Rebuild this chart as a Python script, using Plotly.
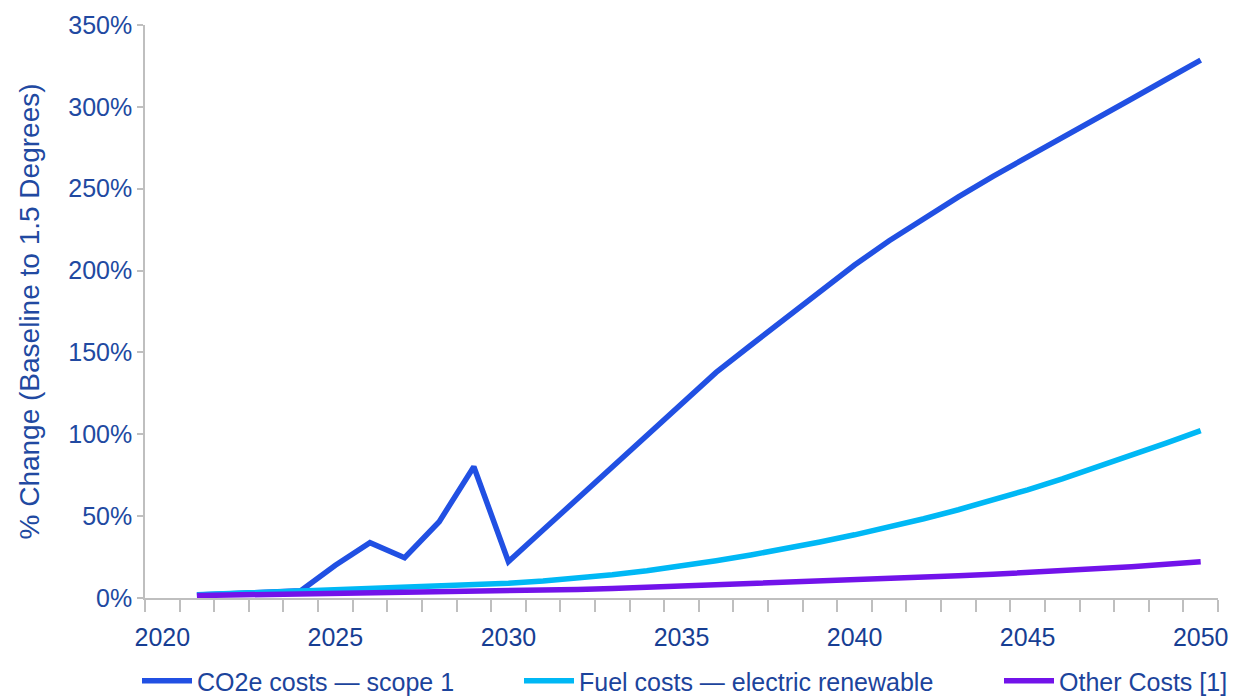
import plotly.graph_objects as go

years = list(range(2021, 2051))

co2e_costs = [1.8, 2.6, 3.5, 4.4, 20.0, 33.8, 24.6, 46.6, 80.2, 22.2,
              41.5, 60.8, 80.1, 99.4, 119.0, 137.8, 154.4, 171.0, 187.6, 203.4,
              218.2, 232.1, 245.0, 257.6, 269.2, 281.1, 293.0, 304.8, 316.7, 328.5]

fuel_costs = [2.0, 2.7, 3.4, 4.2, 4.9, 5.6, 6.3, 7.1, 8.0, 9.0,
              10.4, 12.1, 14.2, 16.7, 19.6, 22.8, 26.3, 30.1, 34.2, 38.6,
              43.3, 48.4, 53.9, 59.8, 66.1, 72.8, 79.9, 87.2, 94.6, 102.2]

other_costs = [1.5, 1.8, 2.1, 2.4, 2.7, 3.0, 3.3, 3.5, 3.7, 4.0,
               4.6, 5.2, 5.8, 6.5, 7.2, 7.9, 8.6, 9.4, 10.2, 11.0,
               11.8, 12.7, 13.6, 14.5, 15.5, 16.6, 17.8, 19.1, 20.6, 22.2]

series_names = ["CO2e costs — scope 1", "Fuel costs — electric renewable", "Other Costs [1]"]
series_colors = ["#2150E3", "#00B8F5", "#7213EA"]

x_tick_vals = [2020, 2025, 2030, 2035, 2040, 2045, 2050]
x_tick_text = ["2020", "2025", "2030", "2035", "2040", "2045", "2050"]
y_tick_vals = [0, 50, 100, 150, 200, 250, 300, 350]
y_tick_text = ["0%", "50%", "100%", "150%", "200%", "250%", "300%", "350%"]
minor_tick_vals = [2019.5 + i for i in range(32)]

FONT = "Liberation Sans, Arial, sans-serif"
AXIS_GREY = "#BFBFBF"

fig = go.Figure()
legend_ids = ["legend", "legend2", "legend3"]
for name, vals, col, lg in zip(series_names, [co2e_costs, fuel_costs, other_costs], series_colors, legend_ids):
    fig.add_trace(go.Scatter(
        x=years, y=vals, mode="lines", name=name,
        line=dict(color=col, width=5.5),
        legend=lg,
    ))

legend_common = dict(
    orientation="h", yanchor="middle", xanchor="left",
    xref="container", yref="container",
    font=dict(family=FONT, size=25, color="#1C449C"),
    bgcolor="rgba(0,0,0,0)", itemwidth=50,
)
LEG_Y = 1 - 681 / 698

fig.update_layout(
    width=1234, height=698,
    margin=dict(l=145, r=16, t=25, b=100, autoexpand=False),
    paper_bgcolor="white", plot_bgcolor="white",
    showlegend=True,
    legend=dict(x=137 / 1234, y=LEG_Y, **legend_common),
    legend2=dict(x=519 / 1234, y=LEG_Y, **legend_common),
    legend3=dict(x=999 / 1234, y=LEG_Y, **legend_common),
    xaxis=dict(
        range=[2019.5, 2050.5],
        tickmode="array", tickvals=x_tick_vals, ticktext=x_tick_text,
        ticks="", ticklabelstandoff=16,
        tickfont=dict(family=FONT, size=25, color="#173E93"),
        showline=True, linecolor=AXIS_GREY, linewidth=1.5,
        showgrid=False, zeroline=False,
        minor=dict(tickmode="array", tickvals=minor_tick_vals, ticks="outside",
                   ticklen=12, tickcolor=AXIS_GREY, tickwidth=1.5, showgrid=False),
    ),
    yaxis=dict(
        range=[0, 350],
        tickmode="array", tickvals=y_tick_vals, ticktext=y_tick_text,
        ticks="outside", ticklen=6, tickcolor=AXIS_GREY, tickwidth=1.5,
        tickfont=dict(family=FONT, size=25, color="#2149A1"),
        showline=True, linecolor=AXIS_GREY, linewidth=1.5,
        showgrid=False, zeroline=False,
        title=dict(text="% Change (Baseline to 1.5 Degrees)", standoff=20,
                   font=dict(family=FONT, size=28, color="#2149A1")),
    ),
)

fig.write_html("out.html")
